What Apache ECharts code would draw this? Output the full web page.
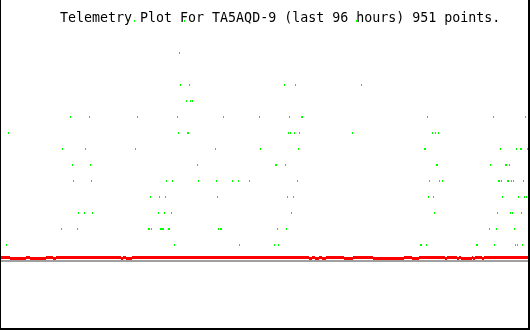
<!DOCTYPE html>
<html>
<head>
<meta charset="utf-8">
<script src="https://cdn.jsdelivr.net/npm/echarts@6/dist/echarts.min.js"></script>
<style>
html,body{margin:0;padding:0;background:#fff;}
#chart{width:530px;height:330px;}
</style>
</head>
<body>
<div id="chart"></div>
<script>
// Telemetry samples: x = sample position (time axis), grouped by value level
const titleText = "Telemetry Plot For TA5AQD-9 (last 96 hours) 951 points.";
const level0  = [6,174,239,274,278,420,421,426,476,477,494,515,517,522];
const level1  = [61,77,148,149,151,160,161,162,163,168,169,218,220,221,277,286,489,496,514];
const level2  = [78,84,92,158,164,171,291,434,497,510,512,521];
const level3  = [150,159,165,217,287,293,428,433,502,518,524,526];
const level4  = [73,91,166,172,198,216,232,238,249,297,429,439,442,498,499,501,507,508,511,513,523];
const level5  = [72,90,197,275,276,285,436,437,490,505,506,509];
const level6  = [62,85,135,215,260,298,424,425,500,516,520,521,527];
const level7  = [8,178,187,188,288,290,294,299,352,432,435,438];
const level8  = [70,89,137,177,223,259,289,301,302,427,493,525];
const level9  = [186,190,192];
const level10 = [180,189,284,295,361];
const level12 = [179];
const level14 = [134,184,356];

// Secondary (red) trace: baseline level and dips
const redBase = -0.78125;
const redLow = -0.84375;
const redStart = 1, redEnd = 528;
const redDips = [[10,19],[20,23],[24,25],[30,37],[38,45],[53,55],[121,122],[126,131],
  [309,311],[315,318],[322,325],[344,350],[351,352],[373,403],[412,418],[445,446],
  [457,458],[461,471],[473,474],[482,483]];
// Reference (gray) line level
const grayLevel = -1;

const levels = [[0,level0],[1,level1],[2,level2],[3,level3],[4,level4],[5,level5],[6,level6],
  [7,level7],[8,level8],[9,level9],[10,level10],[12,level12],[14,level14]];
const green = [];
levels.forEach(([lv, xs]) => xs.forEach(x => green.push([x, lv])));

// red runs: [x0, x1, level]
const redRuns = [];
let cur = redStart;
redDips.forEach(([a,b]) => {
  if (a > cur) redRuns.push([cur, a - 1, redBase]);
  redRuns.push([a, b, redLow]);
  cur = b + 1;
});
redRuns.push([cur, redEnd, redBase]);

function runRenderer(h, color) {
  return function (params, api) {
    const p0 = api.coord([api.value(0), api.value(2)]);
    const p1 = api.coord([api.value(1), api.value(2)]);
    return {type: 'rect', shape: {x: p0[0] - 0.5, y: p0[1] - h / 2, width: p1[0] - p0[0] + 1, height: h},
            style: {fill: color}};
  };
}

const chart = echarts.init(document.getElementById('chart'), null, {renderer:'canvas', width:530, height:330});
chart.setOption({
  animation: false,
  backgroundColor: '#ffffff',
  title: {
    text: titleText, left: 60, top: 12, padding: 0,
    textStyle: {fontFamily: 'DejaVu Sans Mono', fontSize: 13.3, fontWeight: 'normal', color: '#000'}
  },
  grid: {left: 0, right: 0, top: 5, bottom: 5},
  xAxis: {type: 'value', min: -0.5, max: 529.5, show: false},
  yAxis: {type: 'value', min: -5, max: 15, show: false},
  graphic: [{
    type: 'polyline', silent: true, z: 100,
    shape: {points: [[0,0],[0,329],[529,329],[529,0]]},
    style: {stroke: '#000', lineWidth: 2, fill: null}
  }],
  series: [
    {type: 'custom', silent: true, clip: false,
     data: [[redStart, redEnd, grayLevel]], renderItem: runRenderer(2, '#a0a0a0')},
    {type: 'custom', silent: true, clip: false,
     data: redRuns, renderItem: runRenderer(3, '#ff0000')},
    {type: 'custom', silent: true, clip: false,
     data: green.map(d => [d[0], d[0], d[1]]), renderItem: runRenderer(2, '#00ff00')}
  ]
});
</script>
</body>
</html>
